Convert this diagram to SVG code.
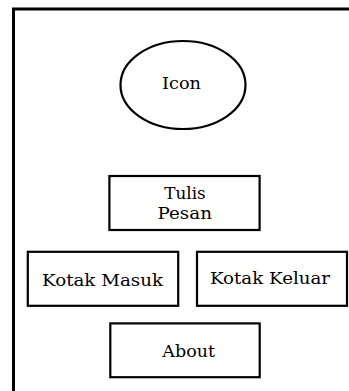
<svg xmlns="http://www.w3.org/2000/svg" width="349" height="391" viewBox="0 0 349 391">
<style>
.box{fill:#fff;stroke:#000;stroke-width:2.2}
.t{font-family:'DejaVu Serif','Liberation Serif',serif;font-size:17px;fill:#000;text-anchor:middle}
</style>
<rect width="349" height="391" fill="#fff"/>
<g id="frame"><path d="M13.5 391 V9 H349" fill="none" stroke="#000" stroke-width="3"/></g>
<g id="icon"><ellipse class="box" cx="183" cy="85" rx="62.5" ry="44"/><text class="t" x="181.5" y="89" textLength="39" lengthAdjust="spacingAndGlyphs">Icon</text></g>
<g id="tulis"><rect class="box" x="109.4" y="176" width="150.2" height="54"/><text class="t" x="185" y="199" textLength="41.5" lengthAdjust="spacingAndGlyphs">Tulis</text><text class="t" x="184.7" y="219" textLength="54.5" lengthAdjust="spacingAndGlyphs">Pesan</text></g>
<g id="masuk"><rect class="box" x="27.8" y="251.8" width="150.4" height="54"/><text class="t" x="102.5" y="286" textLength="121" lengthAdjust="spacingAndGlyphs">Kotak Masuk</text></g>
<g id="keluar"><rect class="box" x="197" y="251.8" width="150" height="54"/><text class="t" x="270" y="284" textLength="120" lengthAdjust="spacingAndGlyphs">Kotak Keluar</text></g>
<g id="about"><rect class="box" x="110.3" y="323.4" width="149.4" height="53.8"/><text class="t" x="188.7" y="357.3" textLength="52.7" lengthAdjust="spacingAndGlyphs">About</text></g>
<g id="connectors"/>
</svg>
